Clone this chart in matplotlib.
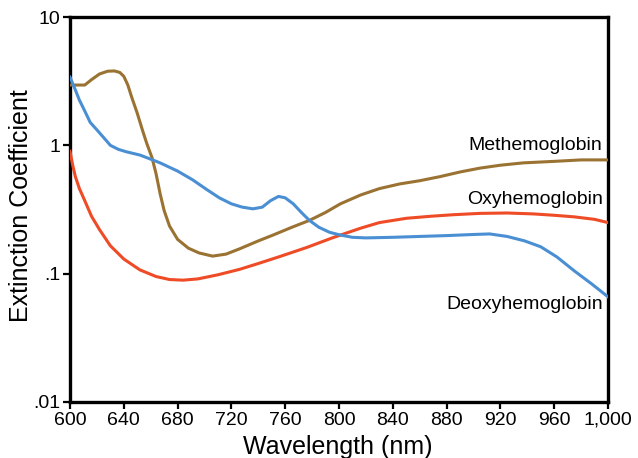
import matplotlib
matplotlib.use("Agg")
import matplotlib.pyplot as plt

plt.rcParams['font.family'] = ['Liberation Sans', 'DejaVu Sans']

# Methemoglobin (brown)
met_nm = [600, 611, 616, 622, 628, 633, 637, 640, 643, 646, 650, 654, 657, 661, 664, 667,
          670, 674, 680, 688, 696, 706, 716, 726, 740, 751, 765, 778, 790, 801, 816,
          830, 845, 860, 875, 890, 905, 920, 937, 960, 980, 1000]
met_val = [2.95, 2.95, 3.25, 3.6, 3.78, 3.8, 3.7, 3.45, 2.95, 2.35, 1.78, 1.3, 1.04, 0.8, 0.6, 0.42,
           0.31, 0.235, 0.185, 0.158, 0.145, 0.137, 0.142, 0.156, 0.18, 0.2, 0.23, 0.26, 0.3, 0.35, 0.41,
           0.46, 0.5, 0.53, 0.57, 0.62, 0.665, 0.7, 0.73, 0.75, 0.77, 0.77]

# Oxyhemoglobin (red)
oxy_nm = [600, 602, 604, 607, 611, 616, 622, 630, 640, 652, 664, 674, 684, 695, 710, 726,
          740, 756, 776, 795, 816, 830, 850, 868, 885, 905, 925, 945, 960, 975, 990, 1000]
oxy_val = [0.9, 0.7, 0.57, 0.46, 0.37, 0.28, 0.22, 0.165, 0.13, 0.107, 0.095, 0.09, 0.089, 0.091, 0.098, 0.108,
           0.12, 0.136, 0.16, 0.19, 0.226, 0.25, 0.27, 0.28, 0.288, 0.295, 0.297, 0.292, 0.285, 0.277, 0.265, 0.25]

# Deoxyhemoglobin (blue)
deo_nm = [600, 604, 607, 611, 615, 620, 625, 630, 636, 642, 652, 660, 667, 680, 691,
          702, 711, 720, 728, 736, 743, 749, 755, 760, 766, 772, 778, 785, 793, 801,
          810, 820, 840, 860, 880, 900, 912, 925, 938, 950, 962, 975, 988, 1000]
deo_val = [3.4, 2.7, 2.25, 1.85, 1.51, 1.32, 1.15, 1.0, 0.93, 0.89, 0.84, 0.78, 0.73, 0.63, 0.54,
           0.45, 0.39, 0.35, 0.33, 0.32, 0.33, 0.37, 0.40, 0.39, 0.35, 0.30, 0.26, 0.23, 0.21, 0.2,
           0.192, 0.19, 0.192, 0.195, 0.198, 0.202, 0.204, 0.195, 0.18, 0.162, 0.135, 0.105, 0.083, 0.066]

x_ticks = [600, 640, 680, 720, 760, 800, 840, 880, 920, 960, 1000]
x_labels = ['600', '640', '680', '720', '760', '800', '840', '880', '920', '960', '1,000']
y_ticks = [0.01, 0.1, 1, 10]
y_labels = ['.01', '.1', '1', '10']

fig = plt.figure(figsize=(6.38, 4.58), dpi=100)
ax = fig.add_axes([70/638, 1-402/458, 538/638, 385/458])

ax.plot(oxy_nm, oxy_val, color='#ee4b26', lw=2.2, zorder=3, solid_joinstyle='round')
ax.plot(met_nm, met_val, color='#9a7232', lw=2.2, zorder=3, solid_joinstyle='round')
ax.plot(deo_nm, deo_val, color='#4a8fd3', lw=2.2, zorder=3, solid_joinstyle='round')

ax.set_yscale('log')
ax.set_xlim(600, 1000)
ax.set_ylim(0.01, 10)
ax.set_xticks(x_ticks)
ax.set_xticklabels(x_labels)
ax.set_yticks(y_ticks)
ax.set_yticklabels(y_labels)
ax.minorticks_off()
ax.tick_params(axis='both', direction='out', length=5, width=1.6, labelsize=14, pad=2, colors='black')

for s in ax.spines.values():
    s.set_linewidth(2.4)
    s.set_color('black')

ax.set_xlabel('Wavelength (nm)', fontsize=18)
ax.set_ylabel('Extinction Coefficient', fontsize=18)
ax.xaxis.set_label_coords(0.497, -0.085)
ax.yaxis.set_label_coords(-0.069, 0.51)

ax.text(996, 1.005, 'Methemoglobin', ha='right', va='center', fontsize=14)
ax.text(996, 0.38, 'Oxyhemoglobin', ha='right', va='center', fontsize=14)
ax.text(996, 0.057, 'Deoxyhemoglobin', ha='right', va='center', fontsize=14)

fig.savefig('out.png', dpi=100)
